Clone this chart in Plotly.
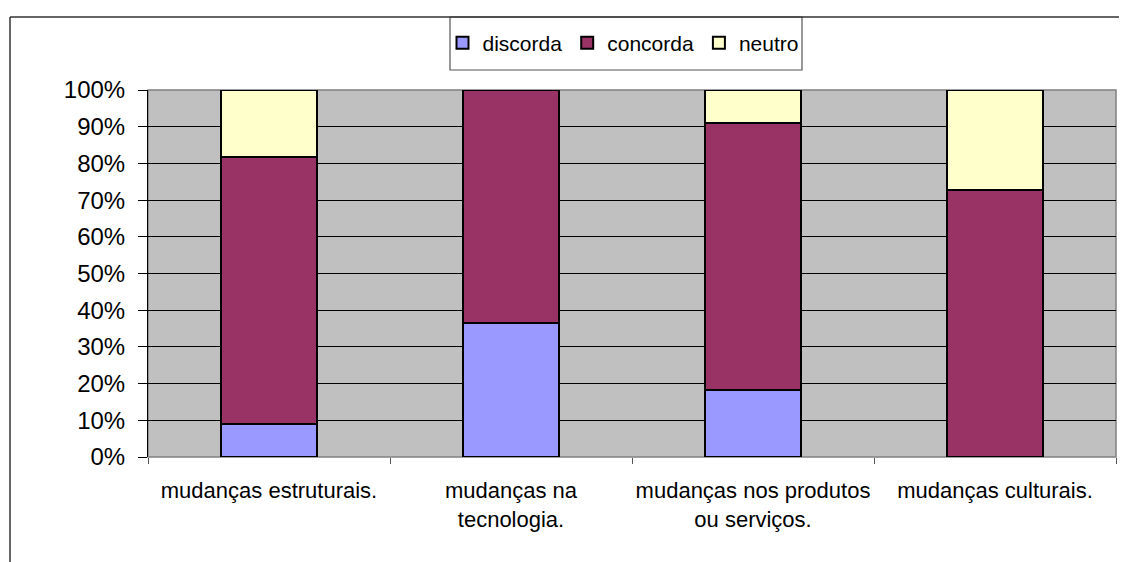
import plotly.graph_objects as go

categories = ["mudanças estruturais.", "mudanças na<br>tecnologia.",
              "mudanças nos produtos<br>ou serviços.", "mudanças culturais."]
discorda = [9.1, 36.4, 18.2, 0.0]
concorda = [72.7, 63.6, 72.7, 72.7]
neutro = [18.2, 0.0, 9.1, 27.3]
y_ticks = [0, 10, 20, 30, 40, 50, 60, 70, 80, 90, 100]
y_ticktext = [f"{v}%" for v in y_ticks]

FONT = "Arial, Liberation Sans, sans-serif"
colors = {"discorda": "#9999FF", "concorda": "#993366", "neutro": "#FFFFCC"}

fig = go.Figure()
for name, vals in [("discorda", discorda), ("concorda", concorda), ("neutro", neutro)]:
    fig.add_trace(go.Bar(
        x=categories, y=vals, name=name,
        marker=dict(color=colors[name], line=dict(color="black", width=2)),
        hoverinfo="skip",
    ))

# page body has an 8px margin; figure is offset by it
OFF = 8
W, H = 1127 - OFF, 562 - OFF
L, T = 148 - OFF, 90 - OFF
R = W + OFF - 1116
B = H + OFF - 457
pw, ph = W - L - R, H - T - B

def px(x):  # page x -> paper
    return (x - OFF - L) / pw

def py(y):  # page y -> paper
    return (H + OFF - B - y) / ph

fig.update_layout(
    width=W, height=H,
    margin=dict(l=L, r=R, t=T, b=B, pad=0),
    barmode="stack", bargap=0.6,
    paper_bgcolor="white", plot_bgcolor="#C0C0C0",
    font=dict(family=FONT, color="black"),
    showlegend=True,
    legend=dict(
        orientation="h", x=px(623), xanchor="center", y=py(43), yanchor="middle",
        font=dict(family=FONT, size=21, color="black"),
        bgcolor="rgba(0,0,0,0)", borderwidth=0, itemclick=False,
        traceorder="normal",
    ),
    xaxis=dict(
        type="category", tickson="boundaries", ticks="outside", ticklen=6,
        tickcolor="#555555", tickwidth=1, showline=False, showgrid=False,
        tickfont=dict(family=FONT, size=22, color="black"),
        ticklabelstandoff=18, tickangle=0, automargin=False,
    ),
    yaxis=dict(
        range=[0, 100], tickvals=y_ticks, ticktext=y_ticktext, ticks="outside",
        ticklen=9, tickcolor="black", tickwidth=1,
        showline=True, linecolor="black", linewidth=1,
        showgrid=True, gridcolor="black", gridwidth=1,
        tickfont=dict(family=FONT, size=24, color="black"),
        ticklabelstandoff=8, automargin=False,
        zeroline=False, fixedrange=True,
    ),
    shapes=[
        dict(type="rect", xref="paper", yref="paper", x0=0, x1=1, y0=0, y1=1,
             line=dict(color="#808080", width=1.5), layer="below"),
        dict(type="rect", xref="paper", yref="paper", x0=px(450), x1=px(802),
             y0=py(70), y1=py(17), line=dict(color="#555555", width=1.2),
             fillcolor="white", layer="below"),
        dict(type="line", xref="paper", yref="paper", x0=px(10), x1=px(10),
             y0=py(17), y1=py(570), line=dict(color="#333333", width=1.5)),
        dict(type="line", xref="paper", yref="paper", x0=px(10), x1=px(1135),
             y0=py(17), y1=py(17), line=dict(color="#333333", width=1.5)),
    ],
)

fig.write_html("out.html")
